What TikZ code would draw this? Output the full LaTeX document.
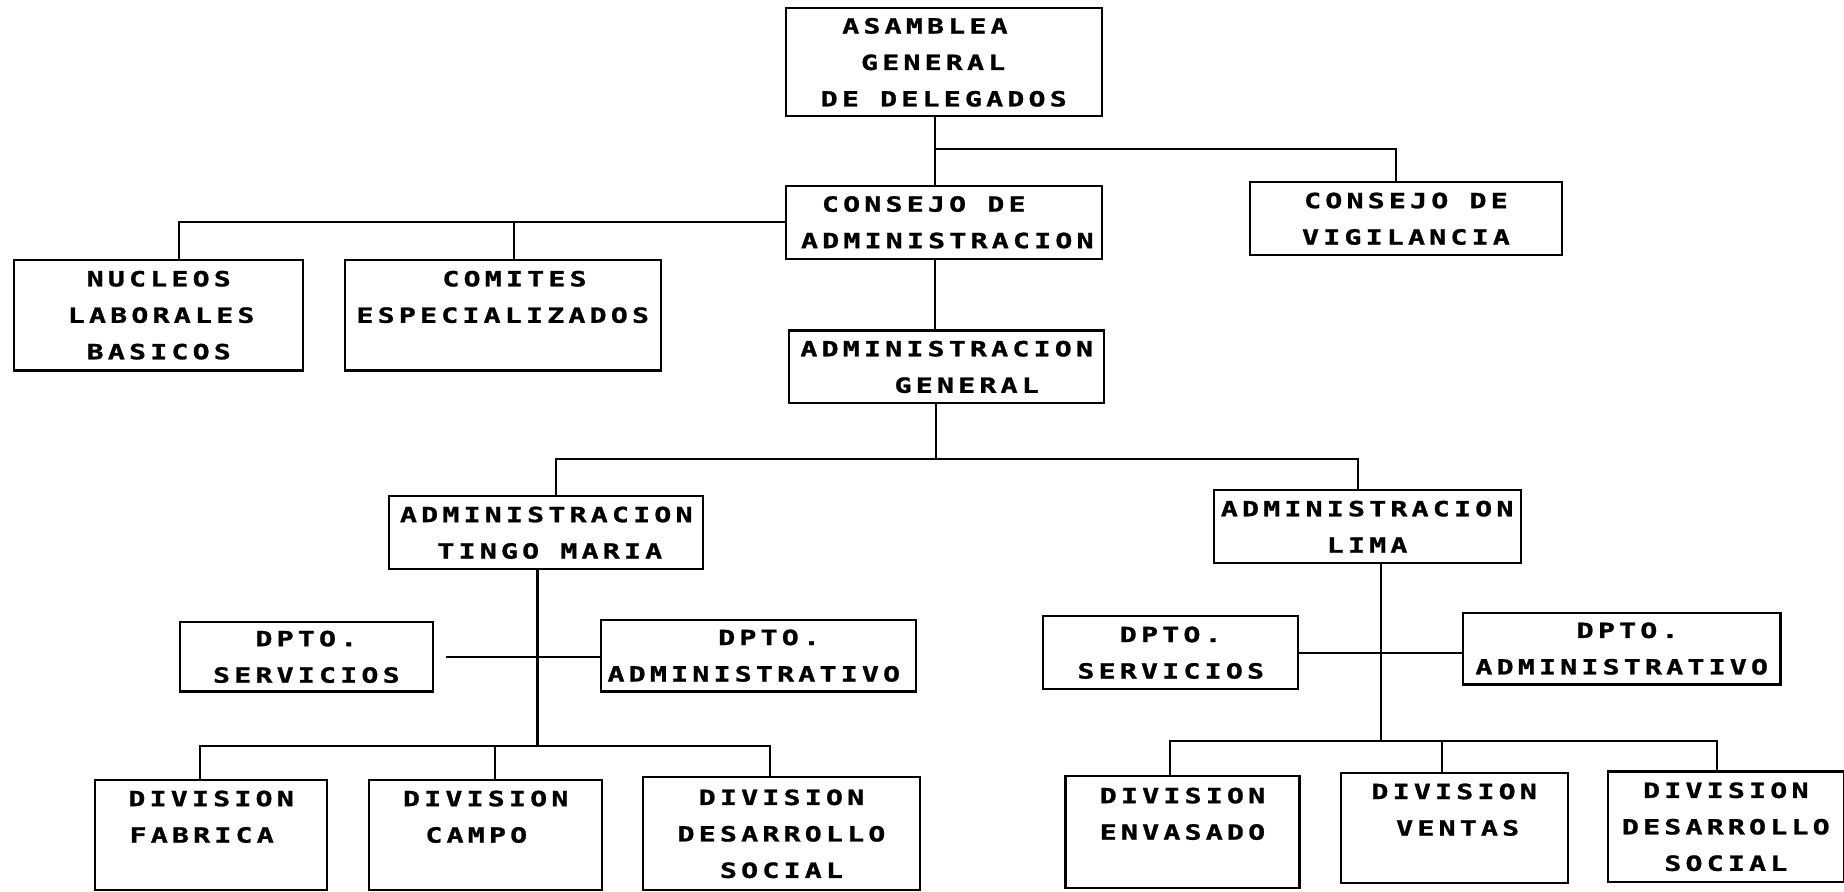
\documentclass[tikz,border=0pt]{standalone}
\usepackage{fontspec}
\newfontfamily\orgfont[LetterSpace=20,FakeStretch=1.35,FakeBold=1.2]{DejaVu Sans Mono Bold}
\newcommand\Ln[1]{\smash{#1}\rule{0pt}{0.73em}}
\newcommand\Sh[2]{\Ln{\hspace*{#1}#2\hspace*{-#1}}}
\begin{document}
\begin{tikzpicture}[x=1pt,y=-1pt,
  box/.style 2 args={draw, line width=1.8pt, rectangle, inner sep=0pt, align=center,
    minimum width=#1pt, minimum height=#2pt,
    font=\orgfont\fontsize{17.8}{31}\selectfont},
  wire/.style={line width=1.8pt}]
\useasboundingbox (0,0) rectangle (1568,758);
% boxes
\node[box={269}{92}] (asam) at (802.5,53) {\Sh{-16pt}{ASAMBLEA}\\\Sh{-9pt}{GENERAL}\\\Ln{DE DELEGADOS}};
\node[box={269}{62}] (cadm) at (802.5,189) {\Sh{-17pt}{CONSEJO DE}\\\Sh{3pt}{ADMINISTRACION}};
\node[box={265}{62}] (cvig) at (1195.5,186) {\Ln{CONSEJO DE}\\\Ln{VIGILANCIA}};
\node[box={246}{94}] (nuc) at (135,268) {\Ln{NUCLEOS}\\\Sh{2pt}{LABORALES}\\\Ln{BASICOS}};
\node[box={269}{94}] (com) at (427.5,268) {\Sh{10pt}{COMITES}\\\Ln{ESPECIALIZADOS}\\\Ln{}};
\node[box={268}{62}] (agen) at (805,312) {\Ln{ADMINISTRACION}\\\Sh{17pt}{GENERAL}};
\node[box={267}{62}] (tingo) at (464.5,453) {\Ln{ADMINISTRACION}\\\Sh{3pt}{TINGO MARIA}};
\node[box={261}{62}] (lima) at (1162.5,448) {\Ln{ADMINISTRACION}\\\Ln{LIMA}};
\node[box={215}{59}] (lserv) at (260.5,558.5) {\Ln{DPTO.}\\\Ln{SERVICIOS}};
\node[box={268}{61}] (ladm) at (645,557.5) {\Sh{9pt}{DPTO.}\\\Sh{-4pt}{ADMINISTRATIVO}};
\node[box={217}{62}] (rserv) at (995.5,555) {\Ln{DPTO.}\\\Ln{SERVICIOS}};
\node[box={270}{61}] (radm) at (1379,551.5) {\Sh{5pt}{DPTO.}\\\Ln{ADMINISTRATIVO}};
\node[box={197}{94}] (dfab) at (179.5,710) {\Ln{DIVISION}\\\Sh{-8pt}{FABRICA}\\\Ln{}};
\node[box={198}{94}] (dcam) at (413,710) {\Ln{DIVISION}\\\Sh{-8pt}{CAMPO}\\\Ln{}};
\node[box={235}{96}] (ddes) at (664.5,709) {\Ln{DIVISION}\\\Ln{DESARROLLO}\\\Ln{SOCIAL}};
\node[box={199}{95}] (denv) at (1005.5,707.5) {\Ln{DIVISION}\\\Ln{ENVASADO}\\\Ln{}};
\node[box={193}{94}] (dven) at (1236.5,704) {\Ln{DIVISION}\\\Sh{3pt}{VENTAS}\\\Ln{}};
\node[box={201}{94}] (rdes) at (1467.5,703) {\Ln{DIVISION}\\\Ln{DESARROLLO}\\\Ln{SOCIAL}};
% junctions
\coordinate (sp) at (795,0);
\coordinate (j1) at (795,127);
\coordinate (j2) at (796,390);
\coordinate (j3) at (457,634);
\coordinate (j4) at (1174,630);
% connectors
\draw[wire] (asam.south -| sp) -- (cadm.north -| sp);
\draw[wire] (j1) -| ([xshift=-8.5pt]cvig.north);
\draw[wire] (cadm.west) -| ([xshift=17pt]nuc.north);
\draw[wire] ([xshift=9.5pt]com.north) |- (cadm.west);
\draw[wire] (cadm.south -| sp) -- (agen.north -| sp);
\draw[wire] (agen.south -| j2) -- (j2);
\draw[wire] ([xshift=8.5pt]tingo.north) |- (j2) -| ([xshift=-7.5pt]lima.north);
\draw[wire] ([xshift=-7.5pt]tingo.south) -- (j3);
\draw[wire] ([xshift=10pt]lserv.east) -- (lserv.east -| ladm.west);
\draw[wire] ([xshift=-9.5pt]dfab.north) |- (j3) -| ([xshift=-9.5pt]ddes.north);
\draw[wire] ([xshift=8pt]dcam.north) |- (j3);
\draw[wire] ([xshift=11.5pt]lima.south) -- (j4);
\draw[wire] (rserv.east) -- (rserv.east -| radm.west);
\draw[wire] ([xshift=-10.5pt]denv.north) |- (j4) -| ([xshift=-7.5pt]rdes.north);
\draw[wire] ([xshift=-10.5pt]dven.north) |- (j4);
\end{tikzpicture}
\end{document}
